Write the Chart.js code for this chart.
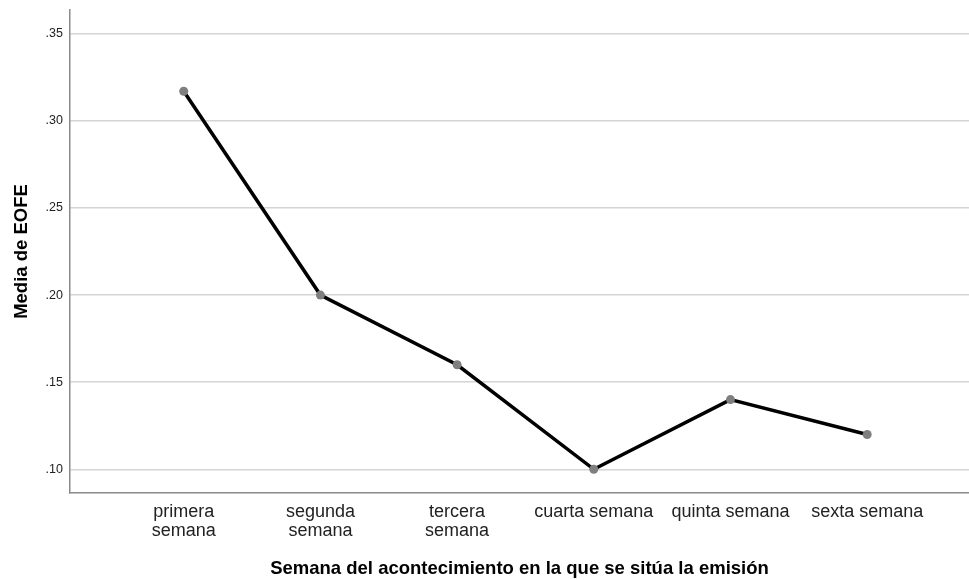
<!DOCTYPE html>
<html>
<head>
<meta charset="utf-8">
<script src="https://cdn.jsdelivr.net/npm/chart.js@4/dist/chart.umd.min.js"></script>
<style>
html,body{margin:0;padding:0;background:#fff;}
#wrap{width:969px;height:580px;}
</style>
</head>
<body>
<div id="wrap"><canvas id="c" width="969" height="580"></canvas></div>
<script>
const categories = [["primera","semana"],["segunda","semana"],["tercera","semana"],"cuarta semana","quinta semana","sexta semana"];
const mediaEOFE = [0.317, 0.200, 0.160, 0.100, 0.140, 0.120];
const yTicks = [0.10, 0.15, 0.20, 0.25, 0.30, 0.35];
const yTitle = "Media de EOFE";
const xTitle = "Semana del acontecimiento en la que se sitúa la emisión";

const points = mediaEOFE.map((v, i) => ({x: i, y: v}));
const font = "'Liberation Sans', Arial, sans-serif";

new Chart(document.getElementById('c'), {
  type: 'line',
  data: {
    datasets: [{
      data: points,
      borderColor: '#000000',
      borderWidth: 3.5,
      pointBackgroundColor: '#7f7f7f',
      pointBorderColor: '#7f7f7f',
      pointRadius: 4.5,
      pointBorderWidth: 0,
      tension: 0,
      fill: false,
      clip: false
    }]
  },
  options: {
    responsive: false,
    animation: false,
    devicePixelRatio: 1,
    layout: { autoPadding: false, padding: { top: 10, right: 0, left: 0, bottom: 0 } },
    plugins: { legend: { display: false }, tooltip: { enabled: false } },
    scales: {
      x: {
        type: 'linear',
        min: -0.832,
        max: 5.745,
        afterBuildTicks: (s) => { s.ticks = categories.map((c, i) => ({value: i})); },
        afterFit: (s) => { s.height = 87; s.paddingLeft = 0; s.paddingRight = 0; },
        grid: { display: false, drawTicks: false },
        border: { display: true, color: '#8a8a8a', width: 1.5 },
        ticks: {
          autoSkip: false,
          maxRotation: 0,
          padding: 10,
          color: '#222',
          font: { family: font, size: 18, lineHeight: 1.05 },
          callback: (v) => categories[v]
        },
        title: {
          display: true,
          text: xTitle,
          color: '#000',
          font: { family: font, size: 18.5, weight: 'bold' },
          padding: { top: 0, bottom: 0 }
        }
      },
      y: {
        type: 'linear',
        min: 0.0864,
        max: 0.3636,
        afterBuildTicks: (s) => { s.ticks = yTicks.map(v => ({value: v})); },
        afterFit: (s) => { s.width = 70; s.paddingTop = 0; s.paddingBottom = 0; },
        grid: { color: '#d4d4d4', lineWidth: 1.5, drawTicks: false },
        border: { display: true, color: '#8a8a8a', width: 1.5 },
        ticks: {
          padding: 7,
          color: '#222',
          font: { family: font, size: 12.5 },
          callback: (v) => v.toFixed(2).replace(/^0/, '')
        },
        title: {
          display: true,
          text: yTitle,
          color: '#000',
          font: { family: font, size: 18.5, weight: 'bold' },
          padding: { top: 11, bottom: 0 }
        }
      }
    }
  }
});
</script>
</body>
</html>
